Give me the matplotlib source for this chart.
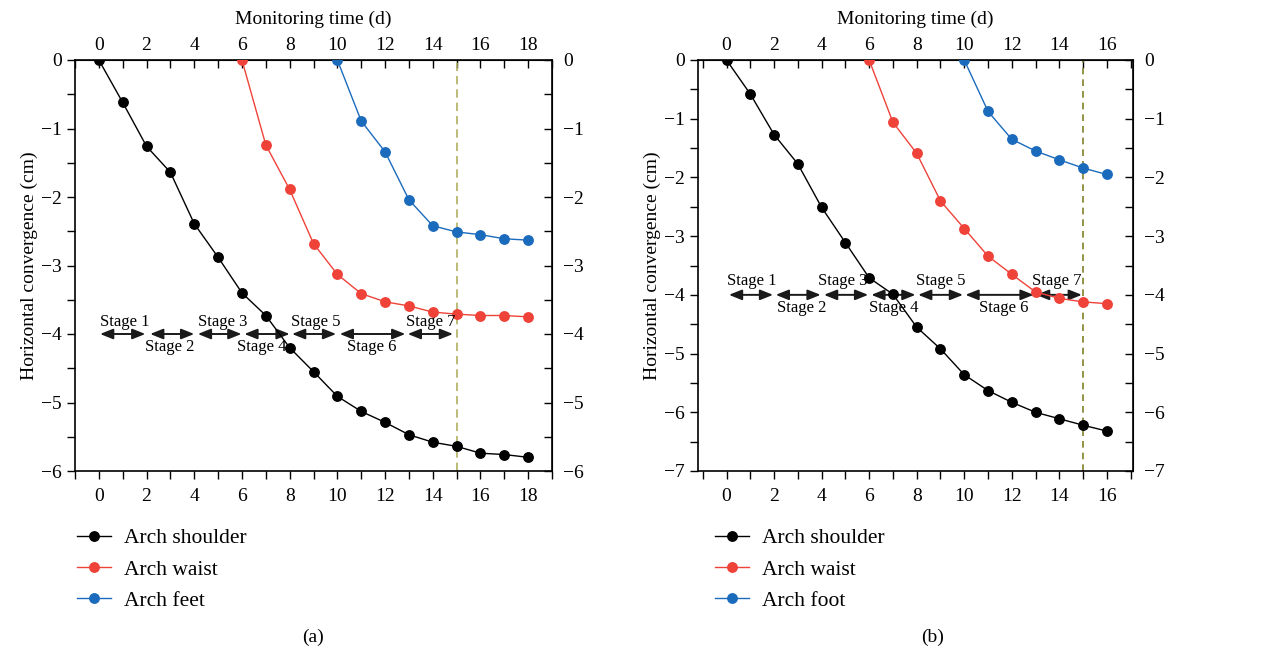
import matplotlib.pyplot as plt
from matplotlib.ticker import MultipleLocator

plt.rcParams['font.family'] = ['Liberation Serif', 'DejaVu Serif']
plt.rcParams['axes.unicode_minus'] = True

# panel (a)
days_a = list(range(19))
shoulder_a = [0, -0.62, -1.26, -1.64, -2.39, -2.88, -3.40, -3.73, -4.20, -4.55,
              -4.91, -5.13, -5.29, -5.47, -5.58, -5.64, -5.74, -5.76, -5.80]
waist_days_a = list(range(6, 19))
waist_a = [0, -1.24, -1.89, -2.68, -3.13, -3.41, -3.53, -3.59, -3.68, -3.71, -3.73, -3.73, -3.75]
feet_days_a = list(range(10, 19))
feet_a = [0, -0.89, -1.34, -2.04, -2.42, -2.51, -2.55, -2.61, -2.63]
stage_start_a = [0.05, 2.15, 4.15, 6.1, 8.1, 10.1, 12.95]
stage_end_a = [1.95, 4.0, 5.98, 8.0, 9.95, 12.85, 14.85]
stage_label_x_a = [1.1, 2.95, 5.2, 6.85, 9.1, 11.45, 13.9]

# panel (b)
days_b = list(range(17))
shoulder_b = [0, -0.58, -1.27, -1.77, -2.51, -3.11, -3.71, -3.99, -4.55, -4.92,
              -5.36, -5.63, -5.83, -6.00, -6.11, -6.22, -6.32]
waist_days_b = list(range(6, 17))
waist_b = [0, -1.06, -1.59, -2.40, -2.87, -3.34, -3.65, -3.95, -4.06, -4.12, -4.15]
foot_days_b = list(range(10, 17))
foot_b = [0, -0.875, -1.35, -1.55, -1.70, -1.84, -1.95]
stage_start_b = [0.1, 2.07, 4.1, 6.09, 8.06, 10.05, 13.02]
stage_end_b = [1.96, 3.96, 5.96, 7.95, 9.95, 12.92, 14.95]
stage_label_x_b = [1.05, 3.15, 4.9, 7.04, 9.0, 11.66, 13.9]

stage_names = ['Stage %d' % i for i in range(1, 8)]

BLACK = 'black'
RED = '#ef4238'
BLUE = '#1b6bbd'

fig = plt.figure(figsize=(12.61, 6.52), dpi=100)
ax_a = fig.add_axes([75 / 1261, 181 / 652, 477 / 1261, 411 / 652])
ax_b = fig.add_axes([698 / 1261, 181 / 652, 435 / 1261, 411 / 652])


def draw_panel(ax, series, xlim, ylim, starts, ends, label_x, y_up, y_dn,
               dash_color, dash_style, legend_names, caption, cap_x, leg_x):
    for (xs, ys, c), name in zip(series, legend_names):
        ax.plot(xs, ys, '-o', color=c, lw=1.0, ms=6.8, label=name, zorder=3)
    ax.axvline(15, color=dash_color, ls=dash_style, lw=1.2, zorder=2)

    for i, (s, e) in enumerate(zip(starts, ends)):
        ax.annotate('', xy=(e, -4), xytext=(s, -4),
                    arrowprops=dict(arrowstyle='<|-|>,head_length=0.55,head_width=0.22',
                                    color='#1a1a1a', lw=1.4,
                                    mutation_scale=14, shrinkA=0, shrinkB=0),
                    zorder=2)
        y = y_up if i % 2 == 0 else y_dn
        ax.text(label_x[i], y, stage_names[i], ha='center', va='center', fontsize=12)

    ax.set_xlim(*xlim)
    ax.set_ylim(*ylim)
    ax.xaxis.set_major_locator(MultipleLocator(1))
    ax.yaxis.set_major_locator(MultipleLocator(0.5))
    ax.tick_params(direction='out', length=6, width=1, labelsize=14)

    fmt_x = lambda v, p: '%d' % v if abs(v - round(v)) < 1e-6 and int(round(v)) % 2 == 0 and v >= 0 else ''
    fmt_y = lambda v, p: ('%d' % v).replace('-', '\u2212') if abs(v - round(v)) < 1e-6 else ''

    ax.xaxis.set_major_formatter(fmt_x)
    ax.yaxis.set_major_formatter(fmt_y)
    ax.tick_params(axis='x', pad=6, top=True)

    top = ax.secondary_xaxis('top')
    top.xaxis.set_major_locator(MultipleLocator(1))
    top.xaxis.set_major_formatter(fmt_x)
    top.tick_params(direction='out', length=0, width=1, labelsize=14, pad=4)
    top.set_xlabel('Monitoring time (d)', fontsize=14, labelpad=10)

    right = ax.secondary_yaxis('right')
    right.yaxis.set_major_locator(MultipleLocator(0.5))
    right.yaxis.set_major_formatter(fmt_y)
    right.tick_params(direction='in', length=6, width=1, labelsize=14, pad=8)

    for sp in ax.spines.values():
        sp.set_linewidth(1.2)

    ax.set_ylabel('Horizontal convergence (cm)', fontsize=14, labelpad=2)

    fig.legend(*ax.get_legend_handles_labels(), loc='upper left',
               bbox_to_anchor=(leg_x / 1261, 1 - 528 / 652), frameon=False,
               fontsize=15.5, handlelength=1.6, handletextpad=0.6,
               labelspacing=0.53, borderaxespad=0, borderpad=0)
    fig.text(cap_x / 1261, 1 - 637 / 652, caption, ha='center', va='center', fontsize=14)


draw_panel(ax_a,
           [(days_a, shoulder_a, BLACK), (waist_days_a, waist_a, RED), (feet_days_a, feet_a, BLUE)],
           (-1, 19), (-6, 0), stage_start_a, stage_end_a, stage_label_x_a, -3.82, -4.19,
           '#b0b060', (0, (5, 3)), ['Arch shoulder', 'Arch waist', 'Arch feet'], '(a)', 313, 77)
draw_panel(ax_b,
           [(days_b, shoulder_b, BLACK), (waist_days_b, waist_b, RED), (foot_days_b, foot_b, BLUE)],
           (-1.2, 17.1), (-7, 0), stage_start_b, stage_end_b, stage_label_x_b, -3.77, -4.22,
           '#808028', (0, (4, 3)), ['Arch shoulder', 'Arch waist', 'Arch foot'], '(b)', 933, 715)

# ticks on the top edge of the plotting box point inward; bottom ones point out
for ax in (ax_a, ax_b):
    for t in ax.xaxis.get_major_ticks():
        t.tick2line.set_marker(3)  # TICKDOWN
        t.tick2line.set_markersize(6)

fig.savefig('out.png', dpi=100)
